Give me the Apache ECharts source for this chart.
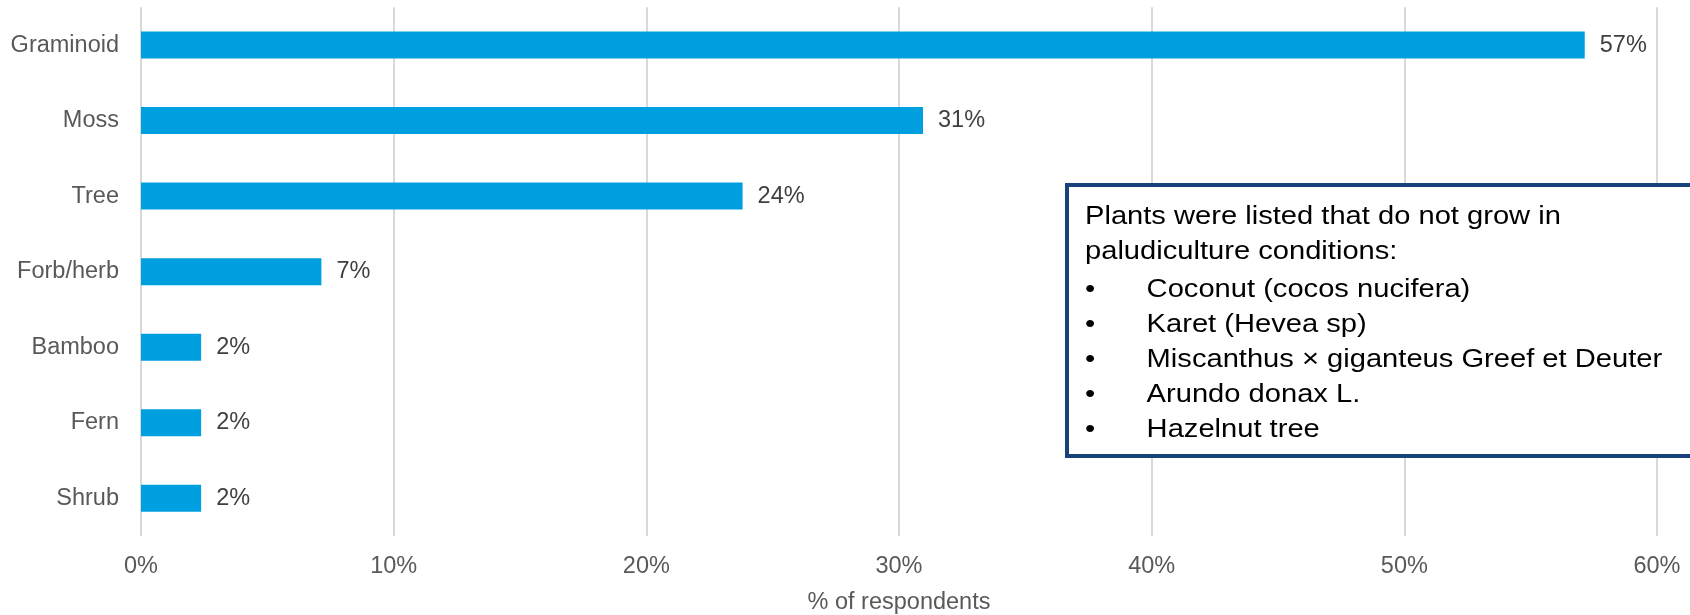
<!DOCTYPE html>
<html>
<head>
<meta charset="utf-8">
<script src="https://cdn.jsdelivr.net/npm/echarts@6/dist/echarts.min.js"></script>
<style>
  html, body { margin: 0; padding: 0; background: #fff; }
  #main { width: 1690px; height: 615px; }
</style>
</head>
<body>
<div id="main"></div>
<script>
// plant types named by respondents (share of respondents, %)
var categories = ['Graminoid', 'Moss', 'Tree', 'Forb/herb', 'Bamboo', 'Fern', 'Shrub'];
var shares = [57.14, 30.95, 23.81, 7.14, 2.38, 2.38, 2.38];
var xTicks = [0, 10, 20, 30, 40, 50, 60];

var noteHeader = ['Plants were listed that do not grow in', 'paludiculture conditions:'];
var noteItems = [
  'Coconut (cocos nucifera)',
  'Karet (Hevea sp)',
  'Miscanthus \u00d7 giganteus Greef et Deuter',
  'Arundo donax L.',
  'Hazelnut tree'
];

var font = 'Liberation Sans, Arial, sans-serif';
var chart = echarts.init(document.getElementById('main'));

function noteText(x, y, lines) {
  return {
    type: 'text',
    z: 110,
    x: x,
    y: y,
    style: {
      text: lines.join('\n'),
      fontSize: 26,
      fontFamily: font,
      lineHeight: 35,
      fill: '#000',
      verticalAlign: 'top'
    }
  };
}

chart.setOption({
  animation: false,
  grid: { left: 141, right: 33, top: 7.3, bottom: 79, outerBoundsMode: 'none', containLabel: false },
  xAxis: {
    type: 'value',
    min: xTicks[0],
    max: xTicks[xTicks.length - 1],
    interval: xTicks[1] - xTicks[0],
    name: '% of respondents',
    nameLocation: 'middle',
    nameGap: 55,
    nameTextStyle: { color: '#595959', fontSize: 23.5, fontFamily: font },
    axisLine: { show: false },
    axisTick: { show: false },
    axisLabel: {
      margin: 19,
      color: '#595959',
      fontSize: 23.5,
      fontFamily: font,
      formatter: '{value}%'
    },
    splitLine: { show: true, lineStyle: { color: '#d9d9d9', width: 2 } }
  },
  yAxis: {
    type: 'category',
    data: categories,
    inverse: true,
    axisLine: { show: false },
    axisTick: { show: false },
    axisLabel: { margin: 22, color: '#595959', fontSize: 23.5, fontFamily: font }
  },
  series: [{
    type: 'bar',
    data: shares,
    barWidth: 27,
    itemStyle: { color: '#009fdf' },
    label: {
      show: true,
      position: 'right',
      distance: 15,
      color: '#404040',
      fontSize: 23.5,
      fontFamily: font,
      formatter: function (p) { return Math.round(p.value) + '%'; }
    }
  }],
  graphic: [{
    type: 'rect',
    z: 100,
    shape: { x: 1067, y: 185, width: 660, height: 271 },
    style: { fill: '#fff', stroke: '#17427a', lineWidth: 4 }
  }, {
    type: 'group',
    z: 110,
    x: 1085,
    y: 0,
    scaleX: 1.12,
    children: [
      noteText(0, 199, noteHeader),
      noteText(0, 272.5, noteItems.map(function () { return '\u2022'; })),
      noteText(55, 272.5, noteItems)
    ]
  }]
});
</script>
</body>
</html>
